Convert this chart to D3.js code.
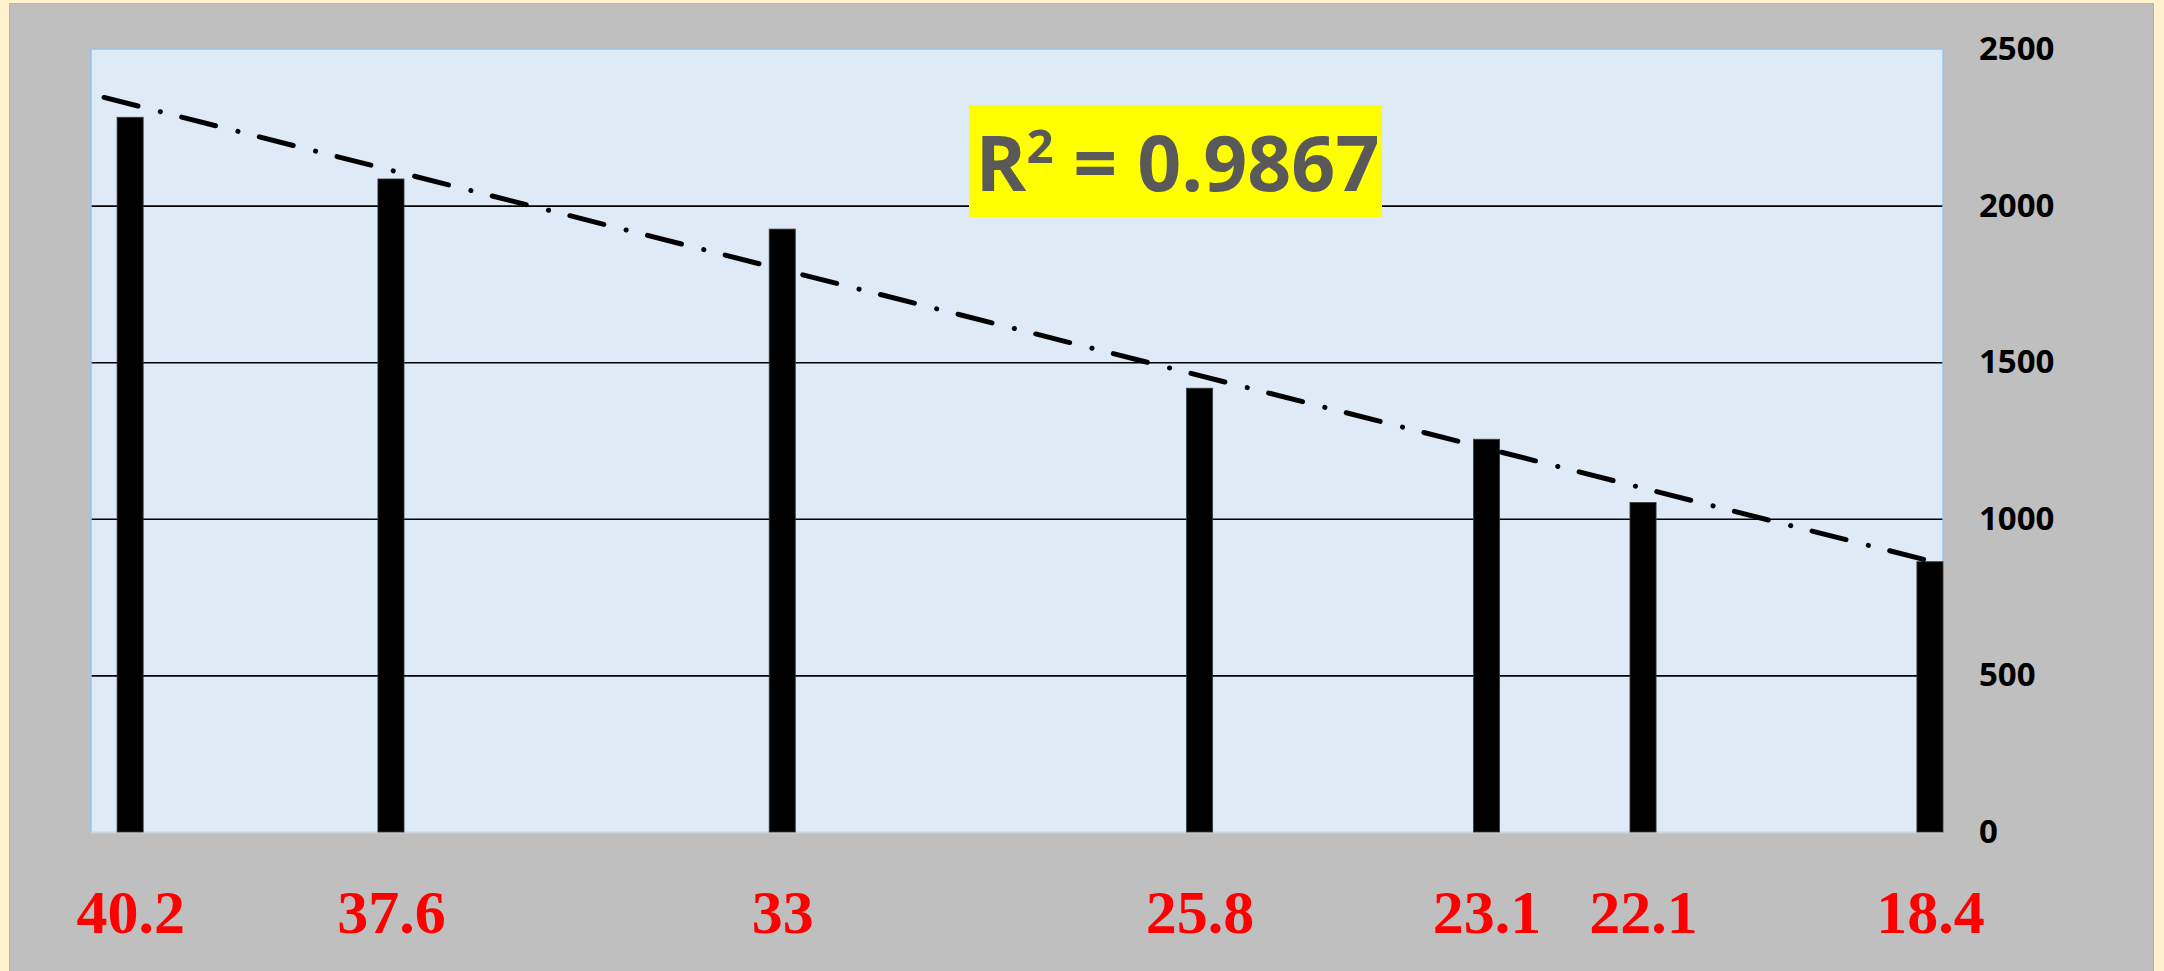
<!DOCTYPE html>
<html>
<head>
<meta charset="utf-8">
<script src="https://cdn.jsdelivr.net/npm/d3@7"></script>
<style>
  html, body { margin: 0; padding: 0; background: #FFF2CC; }
  svg { display: block; }
</style>
</head>
<body>
<svg id="chart" width="2164" height="971"></svg>
<script>
// ---- data ----
const categories = ["40.2", "37.6", "33", "25.8", "23.1", "22.1", "18.4"];
const slots = [1, 11, 26, 42, 53, 59, 70];           // position of each bar on the (date-like) axis
const values = [2282, 2085, 1925, 1417, 1254, 1052, 863];
const yTicks = [0, 500, 1000, 1500, 2000, 2500];
const axisSlots = [0, 71];
const rSquaredLabel = "0.9867";

// ---- layout ----
const W = 2164, H = 971;
const plot = { left: 91, top: 49, right: 1943, bottom: 832 };

const svg = d3.select("#chart");

// outer gray panel
svg.append("rect")
  .attr("x", 9.5).attr("y", 3.5)
  .attr("width", 2144).attr("height", H)
  .attr("fill", "#BFBFBF").attr("stroke", "#B3B3B3").attr("stroke-width", 1);

const x = d3.scaleLinear().domain(axisSlots).range([plot.left, plot.right]);
const y = d3.scaleLinear().domain([0, 2500]).range([plot.bottom, plot.top]);

// plot background
svg.append("rect")
  .attr("x", plot.left).attr("y", plot.top)
  .attr("width", plot.right - plot.left).attr("height", plot.bottom - plot.top)
  .attr("fill", "#DEEBF7");

// gridlines
const grid = svg.append("g")
  .attr("transform", `translate(${plot.left},0)`)
  .call(d3.axisLeft(y).tickValues(yTicks.filter(t => t > 0 && t < 2500))
        .tickSize(-(plot.right - plot.left)).tickFormat(""));
grid.select(".domain").remove();
grid.selectAll(".tick line").attr("stroke", "#000").attr("stroke-width", 1.6);

// plot border
svg.append("path")
  .attr("d", `M${plot.left},${plot.bottom}V${plot.top}H${plot.right}V${plot.bottom}`)
  .attr("fill", "none").attr("stroke", "#9DC3E6").attr("stroke-width", 1.5);
svg.append("line")
  .attr("x1", plot.left).attr("x2", plot.right)
  .attr("y1", plot.bottom + 0.5).attr("y2", plot.bottom + 0.5)
  .attr("stroke", "#CBD3DB").attr("stroke-width", 2);

// bars
const data = categories.map((c, i) => ({ c, slot: slots[i], v: values[i] }));
svg.append("g").selectAll("rect").data(data).join("rect")
  .attr("x", d => x(d.slot))
  .attr("width", d => x(d.slot + 1) - x(d.slot))
  .attr("y", d => y(d.v))
  .attr("height", d => y(0) - y(d.v))
  .attr("fill", "#000")
  .attr("stroke", "#3a3a3a").attr("stroke-width", 0.8);

// linear trendline (least squares on bar centres)
const cx = slots.map(s => s + 0.5);
const mx = d3.mean(cx), my = d3.mean(values);
const sxy = d3.sum(cx, (xv, i) => (xv - mx) * (values[i] - my));
const sxx = d3.sum(cx, xv => (xv - mx) * (xv - mx));
const slope = sxy / sxx, intercept = my - slope * mx;
const trendX = [0.5, 71];
svg.append("path")
  .datum(trendX)
  .attr("d", d3.line().x(d => x(d)).y(d => y(intercept + slope * d)))
  .attr("fill", "none")
  .attr("stroke", "#000")
  .attr("stroke-width", 5)
  .attr("stroke-linecap", "round")
  .attr("stroke-dasharray", "35,23,0.1,22");

// right y-axis labels
const yAxis = svg.append("g")
  .attr("transform", `translate(${plot.right},0)`)
  .call(d3.axisRight(y).tickValues(yTicks).tickSize(0).tickPadding(36).tickFormat(d3.format("d")));
yAxis.select(".domain").remove();
yAxis.selectAll("text")
  .attr("font-family", "'Open Sans', 'Liberation Sans', sans-serif")
  .attr("font-weight", "bold")
  .attr("font-size", 33)
  .attr("fill", "#000");

// bottom category labels
const xAxis = svg.append("g")
  .attr("transform", `translate(0,${plot.bottom})`)
  .call(d3.axisBottom(x).tickValues(cx).tickSize(0).tickPadding(0)
        .tickFormat((d, i) => categories[i]));
xAxis.select(".domain").remove();
xAxis.selectAll("text")
  .attr("dy", null)
  .attr("y", 101)
  .attr("font-family", "'Liberation Serif', 'Times New Roman', serif")
  .attr("font-weight", "bold")
  .attr("font-size", 62)
  .attr("fill", "#FF0000");

// R² annotation
const box = { x: 969, y: 105, w: 413, h: 112 };
svg.append("rect")
  .attr("x", box.x).attr("y", box.y).attr("width", box.w).attr("height", box.h)
  .attr("fill", "#FFFF00");
const rt = svg.append("text")
  .attr("x", box.x + box.w / 2 + 2).attr("y", 191)
  .attr("text-anchor", "middle")
  .attr("font-family", "'Open Sans', 'Liberation Sans', sans-serif")
  .attr("font-weight", "bold")
  .attr("font-size", 77)
  .attr("fill", "#595959");
rt.append("tspan").text("R");
rt.append("tspan").attr("font-size", 47).attr("dy", -28).text("2");
rt.append("tspan").attr("dy", 28).text(" = " + rSquaredLabel);
</script>
</body>
</html>
